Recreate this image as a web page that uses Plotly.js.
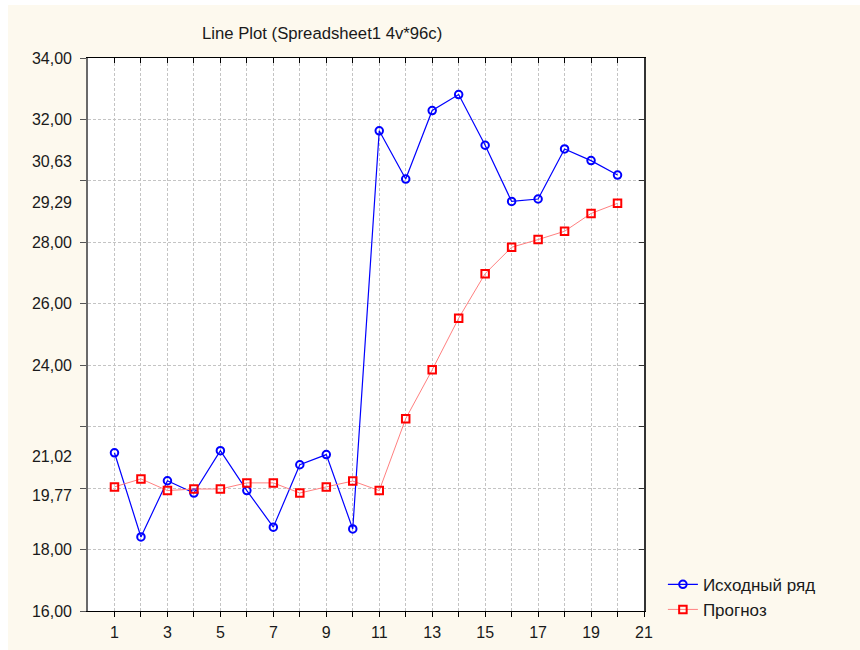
<!DOCTYPE html>
<html>
<head>
<meta charset="utf-8">
<script src="https://cdn.plot.ly/plotly-3.0.1.min.js"></script>
<style>
  html, body { margin: 0; padding: 0; background: #ffffff; }
  #chart { position: absolute; left: 8px; top: 5px; width: 852px; height: 645px; }
</style>
</head>
<body>
<div id="chart"></div>
<script>
// Observation index (1..20)
const steps = [1, 2, 3, 4, 5, 6, 7, 8, 9, 10, 11, 12, 13, 14, 15, 16, 17, 18, 19, 20];

// Source series
const original = [21.15, 18.41, 20.24, 19.84, 21.22, 19.92, 18.73, 20.76, 21.09, 18.67,
                  31.63, 30.06, 32.29, 32.81, 31.16, 29.33, 29.41, 31.04, 30.66, 30.19];

// Forecast series
const forecast = [20.04, 20.30, 19.92, 19.97, 19.97, 20.17, 20.17, 19.84, 20.04, 20.23,
                  19.92, 22.26, 23.85, 25.53, 26.98, 27.84, 28.09, 28.36, 28.94, 29.27];

const seriesNames = ['Исходный ряд', 'Прогноз'];
const chartTitle = 'Line Plot (Spreadsheet1 4v*96c)';

// X ticks: every integer, labels on odd ones
const xTickVals = [1, 2, 3, 4, 5, 6, 7, 8, 9, 10, 11, 12, 13, 14, 15, 16, 17, 18, 19, 20, 21];
const xTickText = ['1', '', '3', '', '5', '', '7', '', '9', '', '11', '', '13', '', '15', '', '17', '', '19', '', '21'];

// Y grid every 2 units; labelled values listed separately
const yGridVals = [16, 18, 20, 22, 24, 26, 28, 30, 32, 34];
const yLabelVals = [16, 18, 19.77, 21.02, 24, 26, 28, 29.29, 30.63, 32, 34];
const yLabelText = ['16,00', '18,00', '19,77', '21,02', '24,00', '26,00', '28,00', '29,29', '30,63', '32,00', '34,00'];

const font = { family: 'Liberation Sans, Arial, sans-serif', size: 16, color: '#1a1a1a' };
const gridStyle = { showgrid: true, gridcolor: '#c4c4c4', griddash: '3px,2px', gridwidth: 1 };

// empty helper trace so that an overlay axis gets drawn
function axisCarrier(xa, ya) {
  return { x: [null], y: [null], xaxis: xa, yaxis: ya, type: 'scatter', mode: 'markers',
           showlegend: false, hoverinfo: 'skip' };
}

const traces = [
  {
    x: steps, y: original, name: seriesNames[0], type: 'scatter', mode: 'lines+markers',
    line: { color: '#0000ff', width: 1.2 },
    marker: { symbol: 'circle-open', size: 7.5, color: '#0000ff', line: { width: 2, color: '#0000ff' } }
  },
  {
    x: steps, y: forecast, name: seriesNames[1], type: 'scatter', mode: 'lines+markers',
    line: { color: '#ff8080', width: 1 },
    marker: { symbol: 'square-open', size: 7.5, color: '#ff0000', line: { width: 2, color: '#ff0000' } }
  },
  axisCarrier('x2', 'y'),
  axisCarrier('x', 'y2'),
  axisCarrier('x', 'y3')
];

const layout = {
  width: 852, height: 645,
  margin: { l: 80, r: 216, t: 53, b: 39 },
  paper_bgcolor: '#fdf9ee',
  plot_bgcolor: '#ffffff',
  font: font,
  showlegend: true,
  title: {
    text: chartTitle,
    font: { family: font.family, size: 16.7, color: '#1a1a1a' },
    xref: 'container', yref: 'container',
    x: 194 / 852, xanchor: 'left',
    y: 1 - 28 / 645, yanchor: 'middle'
  },
  xaxis: Object.assign({
    range: [0, 21], tickmode: 'array', tickvals: xTickVals, ticktext: xTickText,
    ticks: 'outside', ticklen: 5, tickcolor: '#000000',
    showline: true, linecolor: '#000000', linewidth: 1,
    zeroline: false, ticklabelstandoff: 2, tickfont: font
  }, gridStyle),
  xaxis2: {
    overlaying: 'x', side: 'top', anchor: 'y', range: [0, 21],
    tickmode: 'array', tickvals: xTickVals, ticks: 'inside', ticklen: 5, tickcolor: '#000000',
    showticklabels: false, showgrid: false, zeroline: false,
    showline: true, linecolor: '#000000', linewidth: 1
  },
  yaxis: Object.assign({
    range: [16, 34], tickmode: 'array', tickvals: yGridVals,
    ticks: 'outside', ticklen: 6, tickcolor: '#555555',
    showticklabels: false,
    showline: true, linecolor: '#6a6a6a', linewidth: 2, zeroline: false
  }, gridStyle),
  yaxis2: {
    overlaying: 'y', side: 'left', anchor: 'x', range: [16, 34],
    tickmode: 'array', tickvals: yLabelVals, ticktext: yLabelText,
    ticks: '', showgrid: false, zeroline: false, showline: false,
    ticklabelstandoff: 15, tickfont: font
  },
  yaxis3: {
    overlaying: 'y', side: 'right', anchor: 'x', range: [16, 34],
    tickmode: 'array', tickvals: yGridVals, ticks: 'inside', ticklen: 5, tickcolor: '#333333',
    showticklabels: false, showgrid: false, zeroline: false,
    showline: true, linecolor: '#333333', linewidth: 1.5
  },
  legend: {
    x: 1.034, xanchor: 'left', y: 0.08, yanchor: 'top',
    bgcolor: 'rgba(0,0,0,0)', borderwidth: 0,
    font: { family: font.family, size: 17, color: '#1a1a1a' }, tracegroupgap: 0
  }
};

Plotly.newPlot('chart', traces, layout, { displayModeBar: false, staticPlot: true });
</script>
</body>
</html>
